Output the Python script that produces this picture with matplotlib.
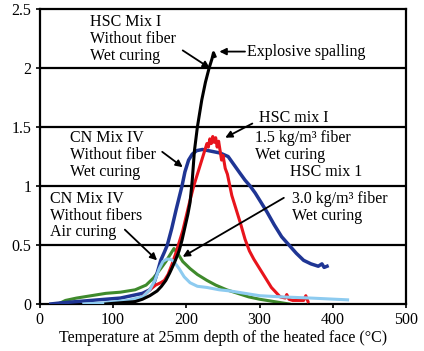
import matplotlib
matplotlib.use("Agg")
import matplotlib.pyplot as plt

# Temperature (C) / value pairs
black_t = [90, 110, 130, 140, 150, 160, 166, 172, 177, 180, 185, 190, 194, 198, 202, 205,
           208, 211, 215, 221, 226, 231, 235, 237, 239]
black_v = [0.0, 0.01, 0.02, 0.04, 0.07, 0.11, 0.15, 0.2, 0.26, 0.3, 0.37, 0.45, 0.54, 0.65,
           0.76, 0.86, 1.05, 1.3, 1.5, 1.73, 1.88, 2.0, 2.08, 2.13, 2.1]

blue_t = [15, 30, 50, 70, 90, 110, 125, 140, 150, 155, 160, 165, 170, 174, 180, 186, 190,
          194, 198, 203, 208, 214, 222, 230, 238, 246, 257, 265, 273, 280, 287, 294, 300,
          310, 320, 330, 340, 350, 360, 370, 380, 385, 388, 392]
blue_v = [0.0, 0.01, 0.02, 0.03, 0.04, 0.05, 0.07, 0.09, 0.12, 0.16, 0.26, 0.37, 0.44, 0.5,
          0.64, 0.8, 0.9, 1.0, 1.12, 1.22, 1.27, 1.3, 1.31, 1.3, 1.29, 1.28, 1.25, 1.18,
          1.11, 1.05, 1.0, 0.94, 0.88, 0.78, 0.67, 0.57, 0.5, 0.43, 0.37, 0.34, 0.32, 0.34,
          0.31, 0.32]

red_t = [130, 140, 150, 158, 165, 170, 175, 180, 185, 190, 195, 200, 205, 210, 215, 220,
         225, 228, 230, 232, 234, 236, 238, 240, 242, 244, 246, 248, 250, 253, 256, 262,
         268, 274, 280, 286, 292, 298, 304, 310, 316, 322, 328, 335, 337, 340, 345, 360,
         363, 366]
red_v = [0.03, 0.06, 0.12, 0.16, 0.18, 0.2, 0.25, 0.33, 0.42, 0.52, 0.62, 0.75, 0.88, 1.0,
         1.1, 1.2, 1.3, 1.36, 1.33, 1.4, 1.36, 1.42, 1.37, 1.41, 1.33, 1.38, 1.3, 1.22,
         1.26, 1.15, 1.1, 0.92, 0.8, 0.68, 0.55, 0.45, 0.38, 0.32, 0.26, 0.2, 0.14, 0.1,
         0.06, 0.05, 0.08, 0.04, 0.03, 0.03, 0.07, 0.02]

green_t = [25, 35, 50, 70, 90, 110, 130, 145, 155, 165, 172, 178, 183, 188, 195, 205, 215,
           228, 240, 255, 270, 285, 300, 320, 340]
green_v = [0.0, 0.03, 0.05, 0.07, 0.09, 0.1, 0.12, 0.16, 0.22, 0.3, 0.36, 0.42, 0.47, 0.43,
           0.36, 0.3, 0.25, 0.2, 0.16, 0.12, 0.09, 0.06, 0.04, 0.02, 0.0]

lblue_t = [60, 90, 120, 140, 150, 157, 163, 168, 173, 178, 183, 190, 197, 205, 215, 228,
           245, 260, 280, 300, 330, 370, 420]
lblue_v = [0.0, 0.01, 0.03, 0.06, 0.12, 0.2, 0.3, 0.36, 0.38, 0.38, 0.36, 0.3, 0.23, 0.18,
           0.15, 0.14, 0.12, 0.11, 0.09, 0.07, 0.06, 0.05, 0.035]

x_ticks = [0, 100, 200, 300, 400, 500]
y_ticks = [0, 0.5, 1, 1.5, 2, 2.5]

plt.rcParams['font.family'] = ['Liberation Serif', 'DejaVu Serif']
FS = 11.5
LS = 1.08

fig = plt.figure(figsize=(4.24, 3.51), dpi=100)
ax = fig.add_axes([0.094, 0.134, 0.864, 0.840])

for y in y_ticks[1:-1]:
    ax.axhline(y, color='black', lw=1.6, zorder=1)

ax.plot(green_t, green_v, color='#3f8a2c', lw=2.2, zorder=2)
ax.plot(blue_t, blue_v, color='#1f3594', lw=2.5, zorder=3)
ax.plot(red_t, red_v, color='#e8141c', lw=2.2, zorder=4)
ax.plot(lblue_t, lblue_v, color='#8dcbf0', lw=2.2, zorder=5)
ax.plot(black_t, black_v, color='black', lw=2.2, zorder=6)

ax.set_xlim(0, 500)
ax.set_ylim(0, 2.5)
ax.set_xticks(x_ticks)
ax.set_yticks(y_ticks)
ax.set_yticklabels(['0', '0.5', '1', '1.5', '2', '2.5'])
ax.tick_params(labelsize=FS, length=3, width=1.2, direction='out', pad=3)
for s in ax.spines.values():
    s.set_linewidth(1.6)
ax.set_xlabel('Temperature at 25mm depth of the heated face (\u00b0C)', fontsize=FS, labelpad=1)

arrow = dict(arrowstyle='-|>', color='black', lw=1.3, mutation_scale=10, shrinkA=0, shrinkB=0)

ax.annotate('', xy=(232, 2.0), xytext=(195, 2.15), arrowprops=arrow, zorder=7)
ax.text(68, 2.25, 'HSC Mix I\nWithout fiber\nWet curing', fontsize=FS, va='center',
        linespacing=LS)

ax.annotate('', xy=(245, 2.14), xytext=(280, 2.14), arrowprops=arrow, zorder=7)
ax.text(283, 2.14, 'Explosive spalling', fontsize=FS, va='center')

ax.annotate('', xy=(253, 1.41), xytext=(290, 1.53), arrowprops=arrow, zorder=7)
ax.text(299, 1.58, 'HSC mix I', fontsize=FS, va='center')
ax.text(294, 1.335, '1.5 kg/m\u00b3 fiber\nWet curing', fontsize=FS, va='center',
        linespacing=LS)

ax.annotate('', xy=(195, 1.16), xytext=(167, 1.29), arrowprops=arrow, zorder=7)
ax.text(41, 1.26, 'CN Mix IV\nWithout fiber\nWet curing', fontsize=FS, va='center',
        linespacing=LS)

ax.annotate('', xy=(195, 0.4), xytext=(333, 0.9), arrowprops=arrow, zorder=7)
ax.text(342, 1.12, 'HSC mix 1', fontsize=FS, va='center')
ax.text(344, 0.82, '3.0 kg/m\u00b3 fiber\nWet curing', fontsize=FS, va='center',
        linespacing=LS)

ax.annotate('', xy=(160, 0.37), xytext=(116, 0.63), arrowprops=arrow, zorder=7)
ax.text(14, 0.75, 'CN Mix IV\nWithout fibers\nAir curing', fontsize=FS, va='center',
        linespacing=LS)

fig.savefig('out.png', dpi=100)
